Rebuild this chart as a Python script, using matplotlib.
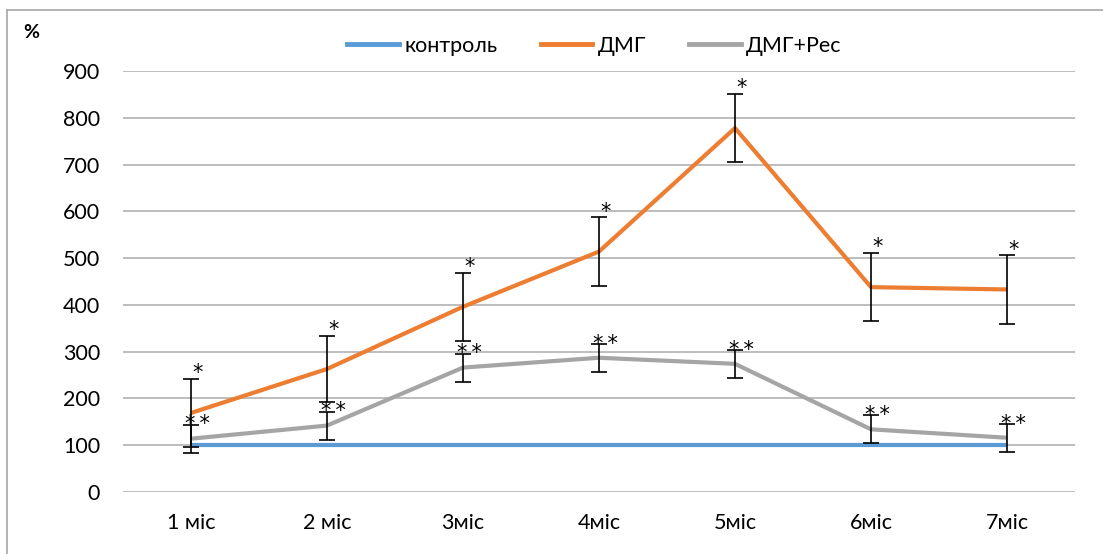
import matplotlib
matplotlib.use('Agg')
import matplotlib.pyplot as plt
from matplotlib.lines import Line2D

months = ['1 міс', '2 міс', '3міс', '4міс', '5міс', '6міс', '7міс']
control = [100, 100, 100, 100, 100, 100, 100]
dmg = [169, 263, 396, 514, 778, 438, 433]
dmg_err = [72, 71, 73, 73, 73, 73, 73]
dmg_res = [114, 142, 266, 287, 274, 134, 116]
dmg_res_err = [30, 30, 30, 30, 30, 30, 30]

plt.rcParams['font.family'] = ['Lato', 'DejaVu Sans']

fig = plt.figure(figsize=(11.03, 5.54), dpi=100)
ax = fig.add_axes([0.1115, 0.1119, 0.8631, 0.7599])

x = range(len(months))
ax.plot(x, control, color='#5B9BD5', lw=3, solid_capstyle='butt', zorder=3)
ax.plot(x, dmg, color='#ED7D31', lw=3, solid_capstyle='butt', zorder=3)
ax.plot(x, dmg_res, color='#A5A5A5', lw=3, solid_capstyle='butt', zorder=3)

ax.errorbar(x, dmg, yerr=dmg_err, fmt='none', ecolor='black', elinewidth=1.2,
            capsize=6, capthick=1.2, zorder=4)
ax.errorbar(x, dmg_res, yerr=dmg_res_err, fmt='none', ecolor='black', elinewidth=1.2,
            capsize=6, capthick=1.2, zorder=4)

# significance marks above the error bars
for i in x:
    ax.text(i + 0.05, dmg[i] + dmg_err[i] - 9, '*', ha='center', va='bottom',
            fontsize=15, family='DejaVu Sans')
    ax.text(i + 0.05, dmg_res[i] + dmg_res_err[i] - 21, '*\u2009*', ha='center',
            va='bottom', fontsize=15, family='DejaVu Sans')

ax.set_xlim(-0.5, len(months) - 0.5)
ax.set_ylim(0, 900)
ax.set_yticks(range(0, 901, 100))
ax.set_xticks(list(x))
ax.set_xticklabels(months)
ax.grid(axis='y', color='#ABABAB', lw=1.1, zorder=0)
ax.set_axisbelow(True)
for s in ax.spines.values():
    s.set_visible(False)
ax.tick_params(length=0, labelsize=15.5, colors='black')
ax.tick_params(axis='y', pad=16.5)
ax.tick_params(axis='x', pad=15)

fig.text(0.021, 0.942, '%', fontsize=14, fontweight='bold', ha='left', va='center')

handles = [Line2D([], [], color=c, lw=3.5) for c in ['#5B9BD5', '#ED7D31', '#A5A5A5']]
fig.legend(handles, ['контроль', 'ДМГ', 'ДМГ+Рес'], loc='center',
           bbox_to_anchor=(0.539, 0.917), ncol=3, frameon=False, fontsize=15.5,
           handlelength=2.4, handletextpad=0.25, columnspacing=2.0)

# outer frame (left and top edges)
fig.add_artist(Line2D([0.0063, 0.0063], [0.0, 0.982], color='#A6A6A6', lw=1.2,
                      transform=fig.transFigure))
fig.add_artist(Line2D([0.0063, 1.0], [0.982, 0.982], color='#A6A6A6', lw=1.2,
                      transform=fig.transFigure))

fig.savefig('out.png', dpi=100)
